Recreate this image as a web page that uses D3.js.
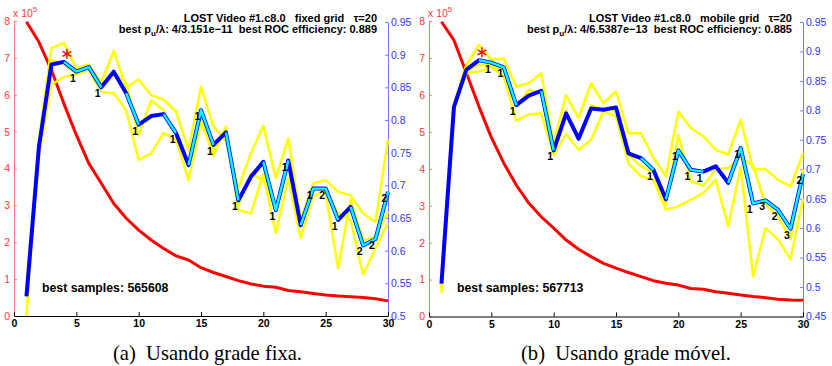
<!DOCTYPE html>
<html><head><meta charset="utf-8">
<script src="https://cdn.jsdelivr.net/npm/d3@7"></script>
<style>
html,body{margin:0;padding:0;background:#fff;}
svg{display:block;font-family:"Liberation Sans",Arial,Helvetica,sans-serif;}
text{white-space:pre;}
</style></head>
<body>
<script>
// ---------- DATA ----------
const steps = [1,2,3,4,5,6,7,8,9,10,11,12,13,14,15,16,17,18,19,20,21,22,23,24,25,26,27,28,29,30];
const xTicks = [0,5,10,15,20,25,30];
const leftTicks = [0,1,2,3,4,5,6,7,8];
const rightTicksA = [0.5,0.55,0.6,0.65,0.7,0.75,0.8,0.85,0.9,0.95];
const rightTicksB = [0.45,0.5,0.55,0.6,0.65,0.7,0.75,0.8,0.85,0.9,0.95];

// panel (a) fixed grid
const samplesA = [7.98,7.43,6.67,5.76,4.91,4.14,3.60,3.05,2.65,2.33,2.06,1.83,1.63,1.52,1.31,1.18,1.07,0.96,0.87,0.81,0.78,0.69,0.66,0.61,0.57,0.54,0.52,0.50,0.47,0.41];
const runA1 = [0.50,0.77,0.910,0.918,0.879,0.885,0.857,0.906,0.850,0.862,0.838,0.831,0.813,0.754,0.851,0.790,0.768,0.696,0.749,0.791,0.711,0.772,0.647,0.703,0.708,0.690,0.685,0.657,0.644,0.770];
const runA2 = [0.53,0.76,0.892,0.885,0.872,0.880,0.849,0.874,0.857,0.776,0.830,0.815,0.775,0.731,0.800,0.745,0.790,0.670,0.718,0.708,0.662,0.735,0.639,0.698,0.688,0.573,0.678,0.616,0.621,0.660];
const runA3 = [0.55,0.745,0.854,0.866,0.870,0.876,0.843,0.841,0.815,0.739,0.749,0.780,0.770,0.708,0.795,0.752,0.785,0.662,0.657,0.718,0.627,0.711,0.619,0.683,0.693,0.657,0.647,0.563,0.604,0.642];
const meanA = [0.530,0.759,0.885,0.889,0.874,0.881,0.850,0.874,0.841,0.793,0.806,0.809,0.780,0.731,0.815,0.762,0.781,0.677,0.713,0.736,0.662,0.738,0.639,0.695,0.695,0.647,0.667,0.608,0.618,0.690];
const cyanA = [[4,7],[9,10],[12,13],[14,16],[17,18],[20,22],[23,26],[27,30]];
const labelStepsA = [5,7,10,13,15,16,18,21,22,24,25,26,28,29,30];
const labelTextA  = ["1","1","1","1","1","1","1","1","1","1","2","1","2","2","2"];
const bestStepA = 4;
const titleA1 = "LOST Video #1.c8.0   fixed grid   \u03C4=20";
const titleA2 = ["best p","u","/\u03BB: 4/3.151e\u221211  best ROC efficiency: 0.889"];
const bestSamplesA = "best samples: 565608";
const captionA = "(a)  Usando grade fixa.";

// panel (b) mobile grid
const samplesB = [7.98,7.48,6.59,5.69,4.85,4.15,3.56,3.07,2.70,2.39,2.07,1.82,1.62,1.44,1.31,1.19,1.08,0.97,0.90,0.85,0.76,0.74,0.67,0.63,0.58,0.54,0.51,0.47,0.45,0.44];
const runB1 = [0.497,0.81,0.877,0.911,0.886,0.888,0.840,0.846,0.863,0.745,0.826,0.787,0.846,0.812,0.832,0.761,0.761,0.720,0.688,0.798,0.770,0.756,0.733,0.725,0.784,0.700,0.700,0.682,0.671,0.727];
const runB2 = [0.500,0.80,0.866,0.877,0.877,0.866,0.805,0.835,0.829,0.727,0.800,0.750,0.809,0.801,0.801,0.725,0.705,0.695,0.640,0.758,0.680,0.672,0.700,0.702,0.720,0.706,0.640,0.620,0.581,0.700];
const runB3 = [0.490,0.805,0.863,0.866,0.874,0.857,0.782,0.793,0.795,0.724,0.760,0.733,0.750,0.798,0.790,0.710,0.688,0.682,0.631,0.637,0.648,0.660,0.682,0.603,0.704,0.518,0.600,0.581,0.547,0.650];
const meanB = [0.506,0.806,0.869,0.885,0.881,0.873,0.809,0.825,0.833,0.732,0.795,0.752,0.803,0.801,0.805,0.727,0.719,0.699,0.649,0.732,0.699,0.696,0.705,0.677,0.736,0.642,0.647,0.631,0.599,0.692];
const cyanB = [[4,7],[9,10],[17,18],[19,22],[24,30]];
const labelStepsB = [5,6,7,10,18,20,21,22,25,26,27,28,29,30];
const labelTextB  = ["1","1","1","1","1","1","1","1","1","1","3","2","3","2"];
const bestStepB = 4;
const titleB1 = "LOST Video #1.c8.0   mobile grid   \u03C4=20";
const titleB2 = ["best p","u","/\u03BB: 4/6.5387e\u221213  best ROC efficiency: 0.885"];
const bestSamplesB = "best samples: 567713";
const captionB = "(b)  Usando grade m\u00F3vel.";

// ---------- DRAW ----------
const W = 832, H = 366;
const svg = d3.select("body").append("svg").attr("width", W).attr("height", H);
svg.append("rect").attr("width", W).attr("height", H).attr("fill", "#fff");

function panel(o) {
  const g = svg.append("g");
  const x = d3.scaleLinear().domain([0, 30]).range([o.x0, o.x1]);
  const yL = d3.scaleLinear().domain([0, 8]).range([o.yB, 21]);
  const yR = d3.scaleLinear().domain([o.rTicks[0], 0.95]).range([o.yB, 22]);

  // left axis (red)
  const la = g.append("g").attr("transform", `translate(${o.x0},0)`)
    .call(d3.axisLeft(yL).tickValues(leftTicks).tickSize(-3).tickSizeOuter(0).tickPadding(4).tickFormat(d3.format("d")));
  la.select(".domain").attr("stroke", "#ff7878");
  la.selectAll(".tick line").attr("stroke", "#ff7878");
  la.selectAll("text").attr("fill", "#ff3838").style("font-size", "10.5px");
  const xl = g.append("text").attr("x", o.x0 - 1).attr("y", 17).attr("fill", "#ff3838").style("font-size", "10.5px");
  xl.append("tspan").text("x 10");
  xl.append("tspan").attr("dy", -5).style("font-size", "8px").text("5");

  // right axis (blue)
  const ra = g.append("g").attr("transform", `translate(${o.x1},0)`)
    .call(d3.axisRight(yR).tickValues(o.rTicks).tickSize(-3).tickSizeOuter(0).tickPadding(3).tickFormat(d => String(+d.toFixed(2))));
  ra.select(".domain").attr("stroke", "#7878ff");
  ra.selectAll(".tick line").attr("stroke", "#7878ff");
  ra.selectAll("text").attr("fill", "#3434ff").style("font-size", "10.5px");

  // bottom axis
  const ba = g.append("g").attr("transform", `translate(0,${o.yB})`)
    .call(d3.axisBottom(x).tickValues(xTicks).tickSize(-4).tickSizeOuter(0).tickPadding(4).tickFormat(d3.format("d")));
  ba.select(".domain").attr("stroke", "#000");
  ba.selectAll("text").attr("fill", "#000").style("font-size", "10.5px").style("font-weight", "bold");

  // red samples curve (left axis)
  const lineL = d3.line().x((d, i) => x(steps[i])).y(d => yL(d));
  g.append("path").attr("d", lineL(o.samples)).attr("fill", "none").attr("stroke", "#ff0000").attr("stroke-width", 3).attr("stroke-linejoin", "round");

  // yellow runs (right axis)
  const lineR = d3.line().x((d, i) => x(steps[i])).y(d => yR(d));
  o.runs.forEach(r => {
    g.append("path").attr("d", lineR(r)).attr("fill", "none").attr("stroke", "#ffff00").attr("stroke-width", 2.5).attr("stroke-linejoin", "round");
  });

  // blue mean
  g.append("path").attr("d", lineR(o.mean)).attr("fill", "none").attr("stroke", "#0000ff").attr("stroke-width", 4).attr("stroke-linejoin", "round");

  // cyan segments
  o.cyan.forEach(([a, b]) => {
    const idx = steps.map((s, i) => i).filter(i => steps[i] >= a && steps[i] <= b);
    const seg = d3.line().x(i => x(steps[i])).y(i => yR(o.mean[i]));
    g.append("path").attr("d", seg(idx)).attr("fill", "none").attr("stroke", "#00ffff").attr("stroke-width", 2.4).attr("stroke-linejoin", "round");
  });

  // number labels
  o.labelSteps.forEach((s, k) => {
    const i = steps.indexOf(s);
    g.append("text").attr("x", x(s) - 3.5).attr("y", yR(o.mean[i]) + 10)
      .attr("text-anchor", "middle").style("font-size", "10.5px").style("font-weight", "bold").attr("fill", "#000")
      .text(o.labelText[k]);
  });

  // best star
  const bi = steps.indexOf(o.bestStep);
  g.append("path").attr("d", d3.symbol().type(d3.symbolAsterisk).size(70)())
    .attr("transform", `translate(${x(o.bestStep) + 3},${yR(o.mean[bi]) - 8})`)
    .attr("fill", "none").attr("stroke", "#ff0000").attr("stroke-width", 1.4);

  // titles
  g.append("text").attr("x", o.titleX).attr("y", 22).attr("text-anchor", "end")
    .style("font-size", "11px").style("font-weight", "bold").text(o.t1);
  const t2 = g.append("text").attr("x", o.titleX).attr("y", 33).attr("text-anchor", "end")
    .style("font-size", "11px").style("font-weight", "bold");
  t2.append("tspan").text(o.t2[0]);
  t2.append("tspan").attr("dy", 3).style("font-size", "8px").text(o.t2[1]);
  t2.append("tspan").attr("dy", -3).text(o.t2[2]);

  g.append("text").attr("x", o.x0 + 28).attr("y", 292).style("font-size", "12.3px").style("font-weight", "bold").text(o.bs);

  svg.append("text").attr("x", o.capX).attr("y", 360)
    .attr("textLength", o.capW).attr("lengthAdjust", "spacingAndGlyphs")
    .style("font-family", "'Liberation Serif','Times New Roman',serif").style("font-size", "21px").text(o.cap);
}

panel({x0: 14, x1: 388, yB: 316, rTicks: rightTicksA, samples: samplesA, runs: [runA1, runA2, runA3], mean: meanA,
  cyan: cyanA, labelSteps: labelStepsA, labelText: labelTextA, bestStep: bestStepA, titleX: 377,
  t1: titleA1, t2: titleA2, bs: bestSamplesA, cap: captionA, capX: 113, capW: 189});
panel({x0: 429, x1: 803, yB: 316.5, rTicks: rightTicksB, samples: samplesB, runs: [runB1, runB2, runB3], mean: meanB,
  cyan: cyanB, labelSteps: labelStepsB, labelText: labelTextB, bestStep: bestStepB, titleX: 792,
  t1: titleB1, t2: titleB2, bs: bestSamplesB, cap: captionB, capX: 521, capW: 210});
</script>
</body></html>
